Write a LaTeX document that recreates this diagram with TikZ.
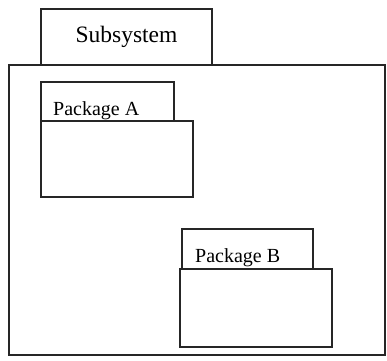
\documentclass[tikz,border=0pt]{standalone}
\usepackage{fontspec}
\setmainfont{Liberation Serif}
\begin{document}
\begin{tikzpicture}[x=1pt,y=1pt,
  frame/.style={draw=black!85, line width=1.3pt, fill=white, rectangle,
    inner sep=0pt, outer sep=0pt, anchor=south west},
  tabtext/.style={inner sep=0pt, anchor=base west, font=\fontsize{20}{24}\selectfont}]
\useasboundingbox (0,0) rectangle (387,360);
% subsystem: tab above the main frame
\node[frame, minimum width=171pt, minimum height=56pt] (subtab) at (41,295) {};
\node[frame, minimum width=376pt, minimum height=290pt] (sub) at (9,5) {};
\node[inner sep=0pt, font=\fontsize{23.5}{28}\selectfont] (subname) at (subtab.center) {Subsystem};
% package A
\node[frame, minimum width=133pt, minimum height=39pt] (pkgAtab) at (41,239) {};
\node[frame, minimum width=152pt, minimum height=76pt] (pkgA) at (41,163) {};
\node[tabtext] (pkgAname) at (53,245) {Package A};
% package B
\node[frame, minimum width=131pt, minimum height=40pt] (pkgBtab) at (182,91) {};
\node[frame, minimum width=152pt, minimum height=78pt] (pkgB) at (180,13) {};
\node[tabtext] (pkgBname) at (195,98) {Package B};
\end{tikzpicture}
\end{document}
